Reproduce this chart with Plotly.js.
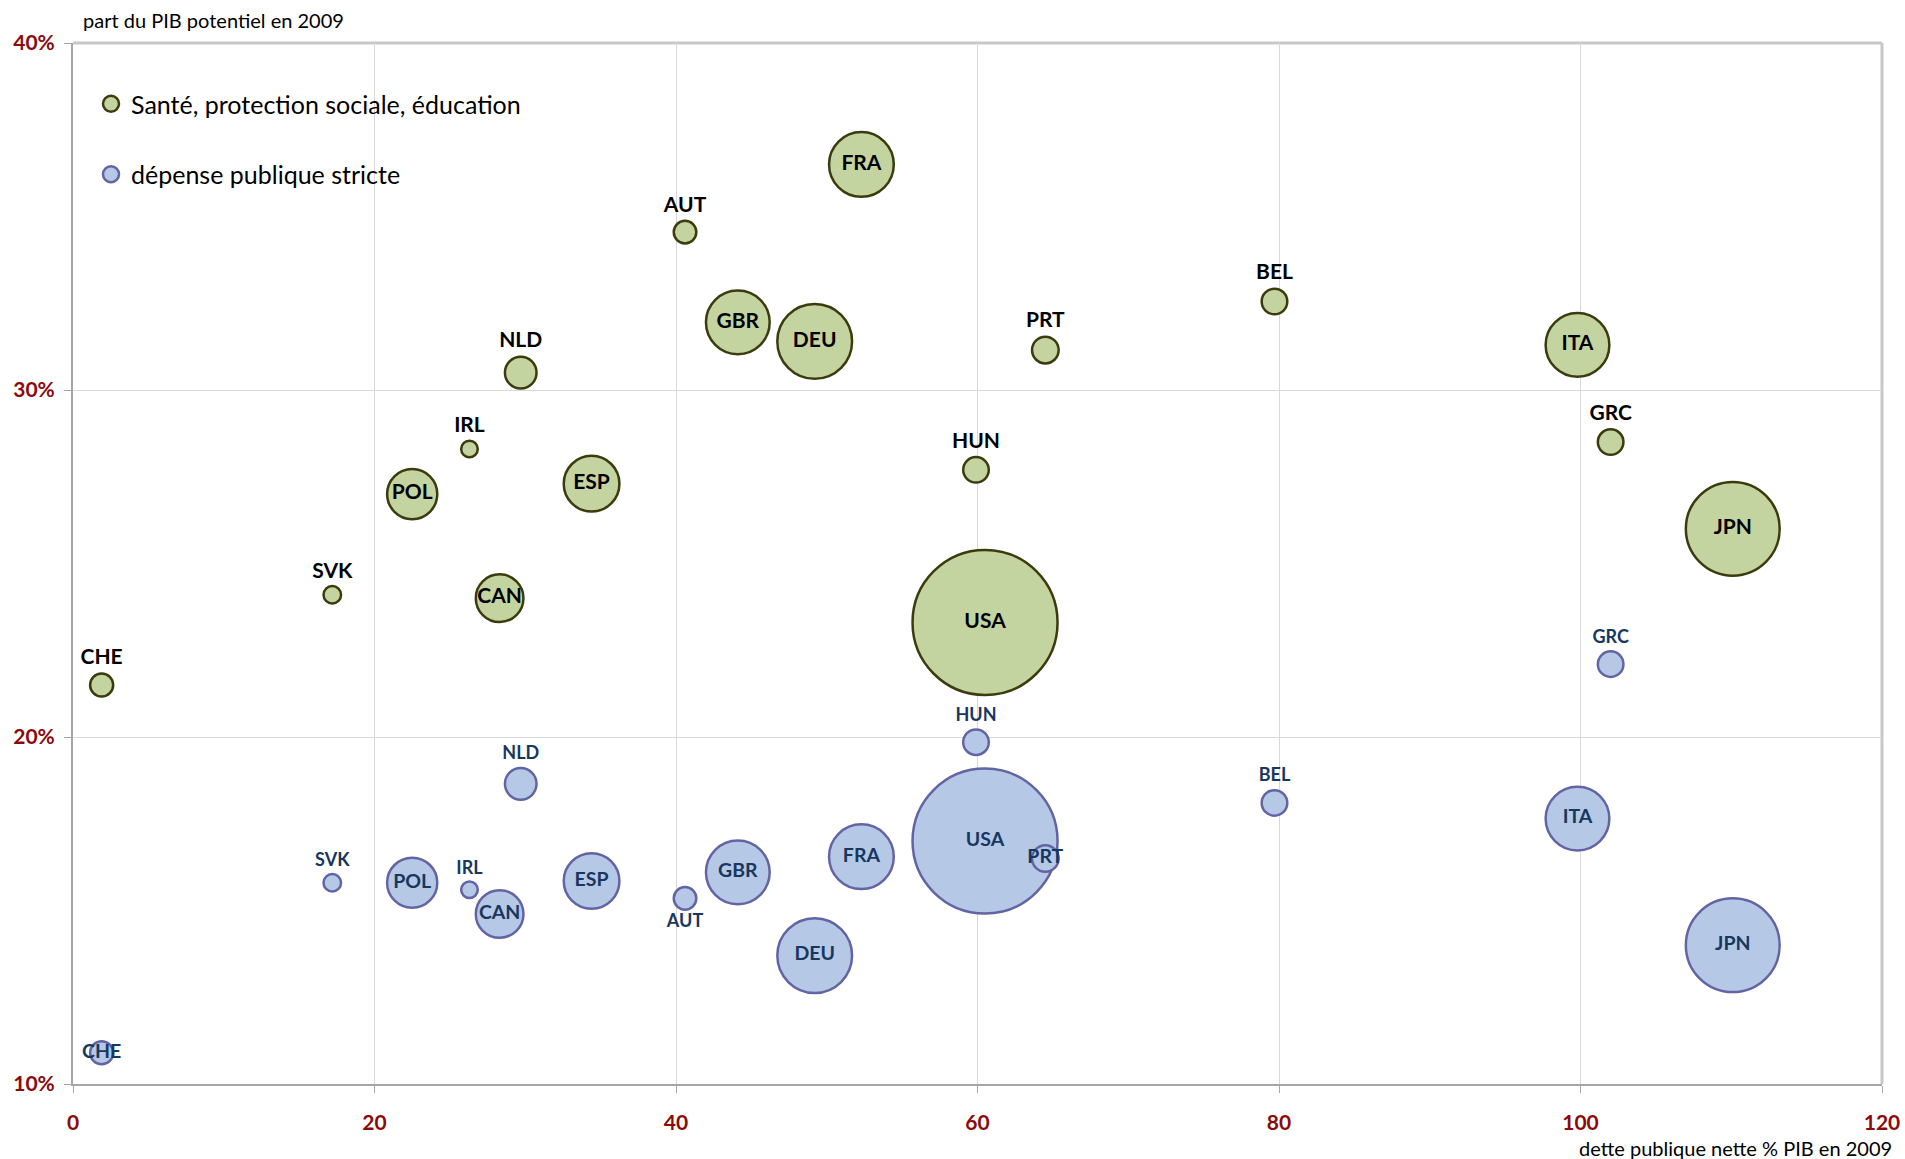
<!DOCTYPE html>
<html>
<head>
<meta charset="utf-8">
<script src="https://cdn.plot.ly/plotly-3.0.1.min.js"></script>
<style>
  html, body { margin: 0; padding: 0; background: #ffffff; }
  #chart { width: 1905px; height: 1159px; }
</style>
</head>
<body>
<div id="chart"></div>
<script>
// ---- Data ----
const countries = ['CHE','SVK','POL','IRL','CAN','NLD','ESP','AUT','GBR','DEU','FRA','HUN','USA','PRT','BEL','ITA','GRC','JPN'];
// dette publique nette, % PIB en 2009
const detteNette = [1.9, 17.2, 22.5, 26.3, 28.3, 29.7, 34.4, 40.6, 44.1, 49.2, 52.3, 59.9, 60.5, 64.5, 79.7, 99.8, 102.0, 110.1];
// Santé, protection sociale, éducation (% du PIB potentiel)
const santeProtEduc = [21.5, 24.1, 27.0, 28.3, 24.0, 30.5, 27.3, 34.55, 31.95, 31.4, 36.5, 27.7, 23.3, 31.15, 32.55, 31.3, 28.5, 26.0];
// dépense publique stricte (% du PIB potentiel)
const depenseStricte = [10.9, 15.8, 15.8, 15.6, 14.9, 18.65, 15.85, 15.35, 16.1, 13.7, 16.55, 19.85, 17.0, 16.5, 18.1, 17.65, 22.1, 14.0];
// bubble size: PIB
const pibPotentiel = [355, 205, 1676, 183, 1513, 665, 2065, 339, 2703, 3721, 2789, 436, 14000, 471, 436, 2703, 436, 5862];

const seriesNames = ['Santé, protection sociale, éducation', 'dépense publique stricte'];
const yTickVals = [10, 20, 30, 40];
const xTickVals = [0, 20, 40, 60, 80, 100, 120];

// ---- Styling ----
const FONT = 'Lato, "Open Sans", sans-serif';
const maxDiam = 145;
const sizeref = 2 * Math.max(...pibPotentiel) / (maxDiam * maxDiam);

const centeredGreen = new Set(['POL','CAN','ESP','GBR','DEU','FRA','USA','ITA','JPN']);
const centeredBlue = new Set(['CHE','POL','CAN','ESP','GBR','DEU','FRA','USA','PRT','ITA','JPN']);
const belowBlue = new Set(['AUT']);

const greenPos = countries.map(c => centeredGreen.has(c) ? 'middle center' : 'top center');
const bluePos = countries.map(c => centeredBlue.has(c) ? 'middle center' : (belowBlue.has(c) ? 'bottom center' : 'top center'));
const blueSizes = countries.map(c => centeredBlue.has(c) ? 19.5 : 18);

const traceGreen = {
  type: 'scatter',
  mode: 'markers+text',
  name: seriesNames[0],
  legendgroup: 'g1',
  x: detteNette,
  y: santeProtEduc,
  text: countries,
  textposition: greenPos,
  textfont: { family: FONT, size: 21, color: '#000000', weight: 'bold' },
  cliponaxis: false,
  marker: {
    size: pibPotentiel,
    sizemode: 'area',
    sizeref: sizeref,
    color: '#c4d4a1',
    opacity: 1,
    line: { color: '#3b3b0e', width: 2.5 }
  },
  hoverinfo: 'text'
};

const traceBlue = {
  type: 'scatter',
  mode: 'markers+text',
  name: seriesNames[1],
  legendgroup: 'g2',
  x: detteNette,
  y: depenseStricte,
  text: countries,
  textposition: bluePos,
  textfont: { family: FONT, size: blueSizes, color: '#17375e', weight: 'bold' },
  cliponaxis: false,
  marker: {
    size: pibPotentiel,
    sizemode: 'area',
    sizeref: sizeref,
    color: '#b5c8e6',
    opacity: 1,
    line: { color: '#6364a4', width: 2.5 }
  },
  hoverinfo: 'text'
};

const W = 1905, H = 1159;
const mL = 73, mR = 23, mT = 43, mB = 75;
const pw = W - mL - mR, ph = H - mT - mB;
const px2x = p => (p - mL) / pw;
const px2y = p => 1 - (p - mT) / ph;

const layout = {
  width: W,
  height: H,
  margin: { l: mL, r: mR, t: mT, b: mB, pad: 0 },
  paper_bgcolor: '#ffffff',
  plot_bgcolor: '#ffffff',
  font: { family: FONT, color: '#000000' },
  showlegend: true,
  legend: {
    x: px2x(91),
    y: px2y(81),
    xanchor: 'left',
    yanchor: 'top',
    bgcolor: 'rgba(0,0,0,0)',
    borderwidth: 0,
    tracegroupgap: 35,
    itemsizing: 'trace',
    font: { family: FONT, size: 25, color: '#000000' }
  },
  xaxis: {
    range: [0, 120],
    tickvals: xTickVals,
    ticktext: xTickVals.map(String),
    showgrid: true,
    gridcolor: '#d9d9d9',
    gridwidth: 1,
    zeroline: false,
    showline: true,
    linecolor: '#a6a6a6',
    linewidth: 2,
    ticks: 'outside',
    ticklen: 7,
    tickwidth: 1,
    tickcolor: '#a6a6a6',
    ticklabelstandoff: 12,
    tickfont: { family: FONT, size: 21, color: '#8b0a0a', weight: 'bold' },
    fixedrange: true
  },
  yaxis: {
    range: [10, 40],
    tickvals: yTickVals,
    ticktext: yTickVals.map(v => v + '%'),
    showgrid: true,
    gridcolor: '#d9d9d9',
    gridwidth: 1,
    zeroline: false,
    showline: true,
    linecolor: '#a6a6a6',
    linewidth: 2,
    ticks: 'outside',
    ticklen: 7,
    tickwidth: 1,
    tickcolor: '#a6a6a6',
    ticklabelstandoff: 5,
    tickfont: { family: FONT, size: 21, color: '#8b0a0a', weight: 'bold' },
    fixedrange: true
  },
  shapes: [
    // legend background (hides the grid behind the legend)
    { type: 'rect', xref: 'paper', yref: 'paper', layer: 'between',
      x0: px2x(76), x1: px2x(525), y0: px2y(209), y1: px2y(46),
      fillcolor: '#ffffff', line: { width: 0 } },
    // top and right border of the plot area
    { type: 'line', xref: 'paper', yref: 'paper', layer: 'below',
      x0: 0, x1: 1, y0: 1, y1: 1, line: { color: '#c8c8c8', width: 3 } },
    { type: 'line', xref: 'paper', yref: 'paper', layer: 'below',
      x0: 1, x1: 1, y0: 0, y1: 1, line: { color: '#c8c8c8', width: 3 } }
  ],
  annotations: [
    { text: 'part du PIB potentiel en 2009', xref: 'paper', yref: 'paper',
      x: px2x(81), y: px2y(20), xanchor: 'left', yanchor: 'middle', showarrow: false,
      font: { family: FONT, size: 20, color: '#000000' } },
    { text: 'dette publique nette % PIB en 2009', xref: 'paper', yref: 'paper',
      x: px2x(1894), y: px2y(1148), xanchor: 'right', yanchor: 'middle', showarrow: false,
      font: { family: FONT, size: 20, color: '#000000' } }
  ]
};

Plotly.newPlot('chart', [traceGreen, traceBlue], layout, { displayModeBar: false, staticPlot: true });
</script>
</body>
</html>
